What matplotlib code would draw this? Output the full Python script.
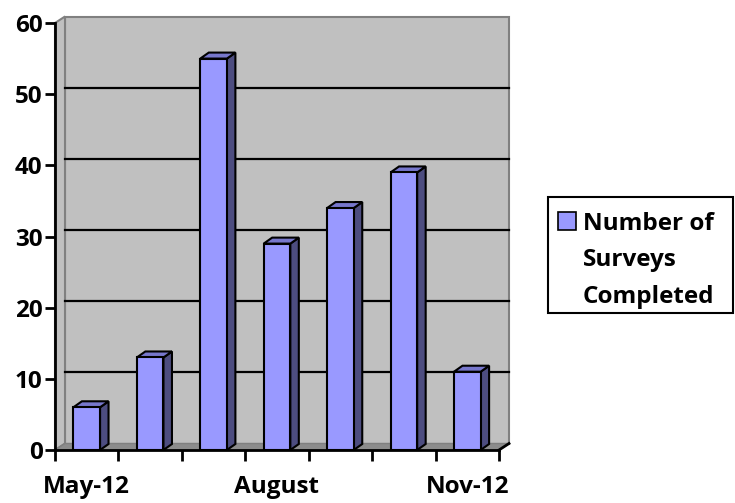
import matplotlib
matplotlib.use("Agg")
import matplotlib.pyplot as plt
from matplotlib.patches import Polygon, Rectangle

plt.rcParams['font.family'] = ['Open Sans', 'DejaVu Sans']
plt.rcParams['font.weight'] = 'bold'

# Data
months = ["May-12", "June", "July", "August", "Sept", "Oct", "Nov-12"]
surveys = [6, 13, 55, 29, 34, 39, 11]
shown_labels = {0: "May-12", 3: "August", 6: "Nov-12"}
series_lines = ["Number of", "Surveys", "Completed"]

# Colours
wall_col = '#c0c0c0'
floor_col = '#8c8c8c'
bar_front = '#9999ff'
bar_side = '#4d4d80'
bar_top = '#7777cc'

W, H = 735, 503
fig = plt.figure(figsize=(W / 100, H / 100), dpi=100)
# front axes frame in pixels: x 55..499, y 23..450 (from top)
ax = fig.add_axes([55 / W, (H - 450) / H, 444 / W, 427 / H])
n = len(months)
ax.set_xlim(-0.5, n - 0.5)
ax.set_ylim(0, 60)

px_x = (n) / 444.0      # data units per pixel in x
px_y = 60 / 427.0       # data units per pixel in y
dx, dy = 10 * px_x, 6.5 * px_y      # wall depth
bdx, bdy = 8.5 * px_x, 6 * px_y     # bar depth

x0, x1 = -0.5, n - 0.5

# back wall, side wall, floor
ax.add_patch(Polygon([(x0 + dx, dy), (x1 + dx, dy), (x1 + dx, 60 + dy), (x0 + dx, 60 + dy)],
                     closed=True, facecolor=wall_col, edgecolor='#808080', lw=1.5,
                     clip_on=False, zorder=0))
ax.add_patch(Polygon([(x0, 0), (x0 + dx, dy), (x0 + dx, 60 + dy), (x0, 60)],
                     closed=True, facecolor=wall_col, edgecolor='#808080', lw=1.5,
                     clip_on=False, zorder=0))
ax.add_patch(Polygon([(x0, 0), (x1, 0), (x1 + dx, dy), (x0 + dx, dy)],
                     closed=True, facecolor=floor_col, edgecolor='#808080', lw=1,
                     clip_on=False, zorder=0.5))

# gridlines on back wall
for v in range(10, 60, 10):
    ax.plot([x0 + dx, x1 + dx], [v + dy, v + dy], color='black', lw=1.6,
            clip_on=False, zorder=1)

# bars
w = 0.42
for i, v in enumerate(surveys):
    l, r = i - w / 2, i + w / 2
    ax.add_patch(Polygon([(r, 0), (r + bdx, bdy), (r + bdx, v + bdy), (r, v)],
                         closed=True, facecolor=bar_side, edgecolor='black', lw=1.5,
                         joinstyle='miter', zorder=3))
    ax.add_patch(Polygon([(l, v), (r, v), (r + bdx, v + bdy), (l + bdx, v + bdy)],
                         closed=True, facecolor=bar_top, edgecolor='black', lw=1.5,
                         joinstyle='miter', zorder=3))
    ax.add_patch(Rectangle((l, 0), w, v, facecolor=bar_front, edgecolor='black',
                           lw=1.5, joinstyle='miter', zorder=4))

# axes lines
for s in ['top', 'right']:
    ax.spines[s].set_visible(False)
for s in ['left', 'bottom']:
    ax.spines[s].set_linewidth(2)
    ax.spines[s].set_zorder(5)
ax.plot([x1, x1 + dx], [0, dy], color='black', lw=2, clip_on=False, zorder=5)

fs = 17.5
ax.set_yticks(range(0, 61, 10))
ax.tick_params(axis='y', length=7, width=2, pad=2, labelsize=fs)
ax.set_xticks([k - 0.5 for k in range(n + 1)])
ax.set_xticklabels([''] * (n + 1))
ax.tick_params(axis='x', which='major', length=8, width=2)
ax.set_xticks(list(shown_labels.keys()), list(shown_labels.values()), minor=True)
ax.tick_params(axis='x', which='minor', length=0, pad=18, labelsize=fs)
for t in ax.get_xticklabels(minor=True) + ax.get_yticklabels():
    t.set_fontweight('bold')
ax.set_facecolor('none')

# legend drawn by hand
fig.patches.append(Rectangle((548 / W, (H - 313) / H), 185 / W, 116 / H,
                             transform=fig.transFigure, facecolor='white',
                             edgecolor='black', lw=1.5))
fig.patches.append(Rectangle((558 / W, (H - 230) / H), 18 / W, 18 / H,
                             transform=fig.transFigure, facecolor=bar_front,
                             edgecolor='black', lw=1.2))
for k, line in enumerate(series_lines):
    fig.text(583 / W, (H - 230 - 36.5 * k) / H, line, ha='left', va='baseline',
             fontsize=fs, fontweight='bold')

fig.savefig("out.png", dpi=100)
